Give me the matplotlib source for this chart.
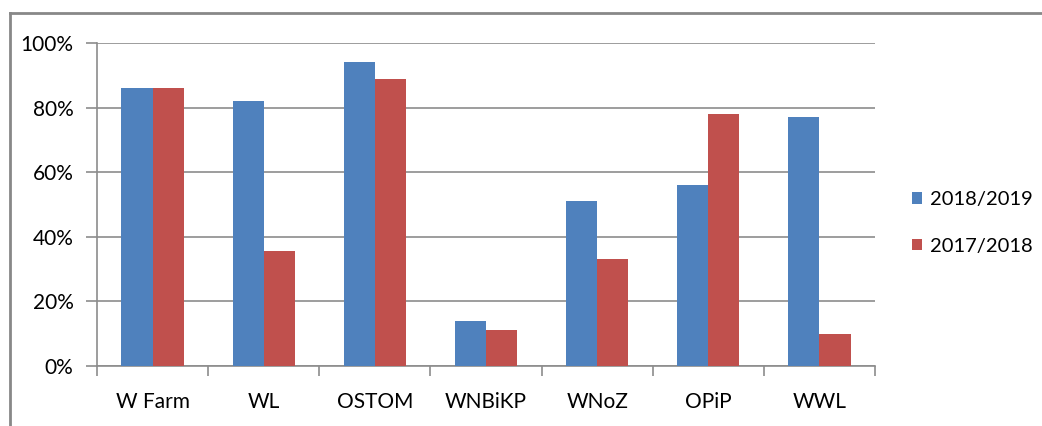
import numpy as np
import matplotlib.pyplot as plt
from matplotlib.lines import Line2D

categories = ['W Farm', 'WL', 'OSTOM', 'WNBiKP', 'WNoZ', 'OPiP', 'WWL']
season_2018_2019 = [86, 82, 94, 14, 51, 56, 77]
season_2017_2018 = [86, 35.5, 89, 11, 33, 78, 10]
y_ticks = [0, 20, 40, 60, 80, 100]

plt.rcParams['font.family'] = ['Lato', 'DejaVu Sans']

fig = plt.figure(figsize=(10.42, 4.26), dpi=100)
ax = fig.add_axes([97 / 1042, 1 - 366 / 426, (875 - 97) / 1042, (366 - 43) / 426])

x = np.arange(len(categories))
w = 0.28
ax.bar(x - w / 2, season_2018_2019, w, color='#4f81bd', label='2018/2019', zorder=3)
ax.bar(x + w / 2, season_2017_2018, w, color='#c0504d', label='2017/2018', zorder=3)

ax.set_xlim(-0.5, len(categories) - 0.5)
ax.set_ylim(0, 100)
ax.set_yticks(y_ticks)
ax.set_yticklabels([f'{v}%' for v in y_ticks])
ax.set_xticks(x)
ax.set_xticklabels(categories)
ax.set_xticks(np.arange(len(categories) + 1) - 0.5, minor=True)

ax.grid(axis='y', color='#8c8c8c', linewidth=1.2, zorder=0)
for s in ['top', 'right']:
    ax.spines[s].set_visible(False)
for s in ['left', 'bottom']:
    ax.spines[s].set_color('#8c8c8c')
    ax.spines[s].set_linewidth(1.2)

ax.tick_params(axis='y', length=8, width=1.2, color='#8c8c8c', pad=9, labelsize=15)
ax.tick_params(axis='x', which='major', length=0, pad=19, labelsize=15)
ax.tick_params(axis='x', which='minor', length=7, width=1.2, color='#8c8c8c')

ax.legend(loc='center left', bbox_to_anchor=((912 - 97) / 778, 0.443), frameon=False,
          fontsize=14.5, handlelength=0.5, handleheight=0.5, handletextpad=0.4,
          labelspacing=1.45, borderpad=0, borderaxespad=0)

# outer chart frame (left and top edges visible)
fig.add_artist(Line2D([10 / 1042, 10 / 1042], [0, 1 - 13 / 426], color='#888888', linewidth=2))
fig.add_artist(Line2D([10 / 1042, 1], [1 - 13 / 426, 1 - 13 / 426], color='#888888', linewidth=2))

fig.savefig('out.png', dpi=100)
